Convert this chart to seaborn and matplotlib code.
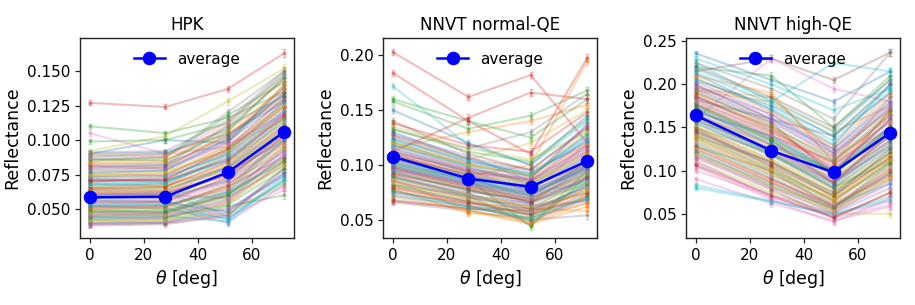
import matplotlib
matplotlib.use("Agg")
import matplotlib.pyplot as plt
import seaborn as sns

# ─── Data ─────────────────────────────────────────────────────────────────────
ANGLES = [0, 28, 51, 72]

# one row per PMT: reflectance at 0, 28, 51, 72 deg
HPK_CURVES = [
    [0.072, 0.070, 0.085, 0.118], [0.065, 0.066, 0.090, 0.125], [0.110, 0.105, 0.116, 0.135],
    [0.127, 0.124, 0.137, 0.163], [0.055, 0.056, 0.070, 0.100], [0.048, 0.047, 0.060, 0.095],
    [0.105, 0.090, 0.095, 0.120], [0.085, 0.088, 0.120, 0.150], [0.092, 0.103, 0.128, 0.152],
    [0.060, 0.062, 0.045, 0.070], [0.090, 0.100, 0.098, 0.140], [0.078, 0.080, 0.105, 0.130],
    [0.099, 0.100, 0.112, 0.148], [0.042, 0.043, 0.055, 0.085], [0.050, 0.051, 0.040, 0.068],
    [0.068, 0.067, 0.080, 0.110], [0.045, 0.046, 0.050, 0.066], [0.058, 0.059, 0.075, 0.105],
    [0.075, 0.076, 0.095, 0.115], [0.053, 0.054, 0.042, 0.074], [0.088, 0.090, 0.108, 0.145],
    [0.062, 0.063, 0.082, 0.112], [0.040, 0.041, 0.052, 0.060], [0.070, 0.072, 0.092, 0.128],
    [0.047, 0.048, 0.063, 0.092], [0.082, 0.083, 0.100, 0.138], [0.039, 0.040, 0.048, 0.078],
    [0.066, 0.068, 0.088, 0.120], [0.056, 0.057, 0.072, 0.098], [0.044, 0.045, 0.041, 0.072],
    [0.080, 0.082, 0.110, 0.132], [0.073, 0.074, 0.096, 0.126], [0.086, 0.087, 0.118, 0.142],
    [0.051, 0.052, 0.066, 0.088], [0.061, 0.060, 0.058, 0.082], [0.038, 0.039, 0.045, 0.080],
    [0.057, 0.056, 0.044, 0.064], [0.076, 0.078, 0.098, 0.135], [0.049, 0.050, 0.068, 0.094],
    [0.067, 0.069, 0.087, 0.116], [0.043, 0.044, 0.057, 0.090], [0.084, 0.086, 0.102, 0.140],
    [0.064, 0.065, 0.079, 0.108], [0.054, 0.055, 0.073, 0.102], [0.071, 0.073, 0.090, 0.122],
    [0.046, 0.047, 0.061, 0.087], [0.059, 0.058, 0.070, 0.097], [0.052, 0.053, 0.064, 0.104],
    [0.041, 0.042, 0.054, 0.083], [0.069, 0.070, 0.085, 0.113], [0.090, 0.091, 0.104, 0.128],
    [0.063, 0.064, 0.078, 0.109], [0.048, 0.049, 0.062, 0.084], [0.074, 0.075, 0.093, 0.124],
    [0.039, 0.040, 0.050, 0.074], [0.060, 0.061, 0.076, 0.100], [0.081, 0.079, 0.097, 0.118],
    [0.045, 0.046, 0.059, 0.093], [0.066, 0.067, 0.083, 0.114], [0.052, 0.050, 0.043, 0.071],
    [0.077, 0.078, 0.101, 0.133], [0.050, 0.051, 0.065, 0.096], [0.086, 0.085, 0.106, 0.146],
    [0.062, 0.062, 0.074, 0.103], [0.040, 0.040, 0.046, 0.076], [0.071, 0.071, 0.094, 0.131],
    [0.055, 0.054, 0.069, 0.091], [0.091, 0.092, 0.114, 0.150], [0.047, 0.046, 0.058, 0.081],
    [0.068, 0.069, 0.091, 0.127], [0.058, 0.058, 0.071, 0.106], [0.083, 0.084, 0.111, 0.143],
    [0.044, 0.044, 0.053, 0.079], [0.065, 0.066, 0.084, 0.117], [0.079, 0.080, 0.099, 0.129],
    [0.052, 0.052, 0.067, 0.099], [0.087, 0.088, 0.113, 0.147], [0.061, 0.061, 0.080, 0.111],
    [0.042, 0.042, 0.047, 0.069], [0.073, 0.074, 0.089, 0.121], [0.056, 0.055, 0.048, 0.076],
    [0.089, 0.089, 0.107, 0.137], [0.049, 0.048, 0.060, 0.086], [0.070, 0.071, 0.086, 0.119],
    [0.059, 0.060, 0.077, 0.107], [0.081, 0.081, 0.103, 0.134], [0.046, 0.045, 0.056, 0.089],
    [0.064, 0.063, 0.081, 0.115], [0.075, 0.077, 0.092, 0.125], [0.053, 0.053, 0.062, 0.101],
]
NORMAL_CURVES = [
    [0.100, 0.085, 0.075, 0.095], [0.115, 0.130, 0.140, 0.155], [0.158, 0.133, 0.145, 0.168],
    [0.203, 0.162, 0.182, 0.120], [0.095, 0.080, 0.070, 0.090], [0.140, 0.110, 0.095, 0.135],
    [0.120, 0.100, 0.090, 0.125], [0.132, 0.115, 0.130, 0.165], [0.125, 0.105, 0.120, 0.150],
    [0.172, 0.118, 0.100, 0.140], [0.150, 0.120, 0.100, 0.145], [0.110, 0.090, 0.100, 0.195],
    [0.160, 0.140, 0.125, 0.160], [0.184, 0.140, 0.110, 0.198], [0.090, 0.072, 0.065, 0.100],
    [0.068, 0.060, 0.055, 0.070], [0.105, 0.085, 0.065, 0.105], [0.066, 0.058, 0.050, 0.054],
    [0.135, 0.115, 0.105, 0.130], [0.082, 0.066, 0.050, 0.085], [0.072, 0.062, 0.058, 0.080],
    [0.098, 0.078, 0.060, 0.058], [0.082, 0.072, 0.045, 0.095], [0.112, 0.143, 0.166, 0.160],
    [0.128, 0.108, 0.085, 0.115], [0.085, 0.070, 0.062, 0.075], [0.118, 0.095, 0.075, 0.120],
    [0.108, 0.090, 0.080, 0.100], [0.093, 0.076, 0.068, 0.092], [0.122, 0.098, 0.082, 0.112],
    [0.088, 0.074, 0.056, 0.082], [0.078, 0.056, 0.052, 0.065], [0.102, 0.083, 0.072, 0.098],
    [0.067, 0.060, 0.058, 0.068], [0.113, 0.093, 0.087, 0.138], [0.096, 0.082, 0.072, 0.102],
    [0.126, 0.103, 0.095, 0.118], [0.090, 0.073, 0.060, 0.088], [0.117, 0.100, 0.083, 0.108],
    [0.104, 0.088, 0.070, 0.093], [0.130, 0.105, 0.090, 0.128], [0.080, 0.064, 0.048, 0.072],
    [0.092, 0.077, 0.067, 0.086], [0.075, 0.065, 0.060, 0.074], [0.110, 0.090, 0.078, 0.110],
    [0.099, 0.081, 0.068, 0.096], [0.086, 0.072, 0.063, 0.067], [0.119, 0.097, 0.085, 0.124],
    [0.094, 0.079, 0.070, 0.091], [0.101, 0.087, 0.074, 0.084], [0.124, 0.102, 0.092, 0.121],
    [0.087, 0.058, 0.046, 0.062], [0.106, 0.087, 0.044, 0.090], [0.079, 0.066, 0.055, 0.078],
    [0.114, 0.096, 0.088, 0.136], [0.097, 0.080, 0.066, 0.083], [0.091, 0.075, 0.069, 0.087],
    [0.107, 0.092, 0.079, 0.104], [0.083, 0.068, 0.057, 0.076], [0.116, 0.093, 0.081, 0.106],
    [0.103, 0.086, 0.077, 0.097], [0.121, 0.101, 0.089, 0.119], [0.089, 0.071, 0.059, 0.081],
    [0.111, 0.094, 0.084, 0.113], [0.076, 0.063, 0.049, 0.069], [0.127, 0.106, 0.096, 0.133],
    [0.095, 0.081, 0.071, 0.094], [0.109, 0.091, 0.076, 0.101], [0.084, 0.069, 0.053, 0.079],
    [0.118, 0.099, 0.090, 0.127], [0.098, 0.084, 0.073, 0.099], [0.071, 0.059, 0.047, 0.066],
    [0.133, 0.112, 0.103, 0.142], [0.092, 0.078, 0.066, 0.089], [0.105, 0.089, 0.078, 0.107],
    [0.081, 0.067, 0.054, 0.073], [0.115, 0.097, 0.087, 0.116], [0.100, 0.082, 0.069, 0.093],
    [0.087, 0.073, 0.062, 0.084], [0.123, 0.104, 0.093, 0.122], [0.094, 0.077, 0.064, 0.088],
    [0.108, 0.092, 0.082, 0.111], [0.077, 0.062, 0.051, 0.071], [0.138, 0.118, 0.112, 0.148],
    [0.097, 0.083, 0.075, 0.100], [0.112, 0.095, 0.086, 0.117], [0.085, 0.070, 0.058, 0.080],
    [0.102, 0.086, 0.073, 0.097], [0.120, 0.100, 0.091, 0.130], [0.074, 0.061, 0.052, 0.069],
]
HIGH_CURVES = [
    [0.236, 0.205, 0.180, 0.215], [0.195, 0.185, 0.120, 0.170], [0.220, 0.210, 0.150, 0.210],
    [0.185, 0.150, 0.100, 0.160], [0.170, 0.130, 0.090, 0.140], [0.215, 0.230, 0.205, 0.237],
    [0.160, 0.230, 0.195, 0.180], [0.150, 0.120, 0.085, 0.130], [0.130, 0.090, 0.060, 0.100],
    [0.225, 0.180, 0.225, 0.215], [0.205, 0.175, 0.140, 0.190], [0.193, 0.180, 0.145, 0.175],
    [0.140, 0.110, 0.075, 0.120], [0.178, 0.140, 0.110, 0.165], [0.120, 0.085, 0.055, 0.090],
    [0.165, 0.130, 0.095, 0.150], [0.100, 0.070, 0.045, 0.060], [0.145, 0.110, 0.070, 0.115],
    [0.110, 0.075, 0.050, 0.050], [0.083, 0.065, 0.048, 0.070], [0.212, 0.170, 0.130, 0.200],
    [0.188, 0.150, 0.115, 0.155], [0.128, 0.100, 0.065, 0.110], [0.175, 0.135, 0.085, 0.145],
    [0.118, 0.080, 0.052, 0.085], [0.200, 0.160, 0.140, 0.200], [0.090, 0.062, 0.042, 0.058],
    [0.158, 0.125, 0.090, 0.135], [0.135, 0.095, 0.068, 0.105], [0.230, 0.200, 0.170, 0.195],
    [0.168, 0.140, 0.100, 0.150], [0.180, 0.145, 0.105, 0.165], [0.148, 0.105, 0.070, 0.125],
    [0.190, 0.155, 0.095, 0.170], [0.108, 0.072, 0.050, 0.080], [0.220, 0.185, 0.150, 0.205],
    [0.125, 0.088, 0.060, 0.095], [0.172, 0.130, 0.100, 0.140], [0.155, 0.118, 0.080, 0.130],
    [0.142, 0.100, 0.060, 0.085], [0.182, 0.160, 0.125, 0.180], [0.210, 0.190, 0.110, 0.185],
    [0.162, 0.120, 0.080, 0.112], [0.138, 0.098, 0.058, 0.102], [0.198, 0.165, 0.120, 0.175],
    [0.115, 0.078, 0.045, 0.075], [0.105, 0.066, 0.040, 0.068], [0.225, 0.195, 0.160, 0.237],
    [0.152, 0.112, 0.072, 0.118], [0.132, 0.092, 0.055, 0.098], [0.176, 0.138, 0.098, 0.160],
    [0.208, 0.168, 0.128, 0.190], [0.122, 0.082, 0.056, 0.108], [0.186, 0.146, 0.108, 0.150],
    [0.166, 0.126, 0.088, 0.128], [0.144, 0.104, 0.064, 0.110], [0.112, 0.068, 0.048, 0.064],
    [0.196, 0.158, 0.118, 0.172], [0.136, 0.096, 0.062, 0.092], [0.080, 0.064, 0.050, 0.066],
    [0.171, 0.133, 0.096, 0.148], [0.150, 0.113, 0.078, 0.122], [0.192, 0.152, 0.112, 0.168],
    [0.128, 0.090, 0.058, 0.098], [0.203, 0.165, 0.125, 0.185], [0.160, 0.122, 0.086, 0.136],
    [0.117, 0.081, 0.051, 0.088], [0.183, 0.143, 0.104, 0.158], [0.139, 0.101, 0.066, 0.112],
    [0.214, 0.178, 0.140, 0.198], [0.155, 0.117, 0.080, 0.126], [0.126, 0.087, 0.054, 0.094],
    [0.177, 0.137, 0.099, 0.152], [0.146, 0.107, 0.071, 0.116], [0.199, 0.160, 0.121, 0.178],
    [0.164, 0.124, 0.087, 0.141], [0.133, 0.094, 0.061, 0.104], [0.187, 0.148, 0.110, 0.163],
    [0.119, 0.083, 0.053, 0.091], [0.218, 0.182, 0.146, 0.206], [0.158, 0.119, 0.083, 0.133],
    [0.141, 0.102, 0.067, 0.114], [0.173, 0.135, 0.097, 0.146], [0.106, 0.071, 0.046, 0.074],
    [0.194, 0.156, 0.116, 0.173], [0.149, 0.109, 0.074, 0.121], [0.181, 0.141, 0.102, 0.157],
    [0.124, 0.086, 0.057, 0.096], [0.167, 0.128, 0.092, 0.143], [0.206, 0.172, 0.134, 0.193],
]

# measurement uncertainty per angle
HPK_ERR = [0.0018, 0.0018, 0.0025, 0.0030]
NORMAL_ERR = [0.0030, 0.0030, 0.0030, 0.0035]
HIGH_ERR = [0.0030, 0.0040, 0.0035, 0.0040]

HPK_AVG = [0.0585, 0.0590, 0.0765, 0.1060]
NORMAL_AVG = [0.1075, 0.0875, 0.0800, 0.1035]
HIGH_AVG = [0.1640, 0.1230, 0.0980, 0.1440]

TITLES = ["HPK", "NNVT normal-QE", "NNVT high-QE"]
YLIMS = [(0.0290, 0.1740), (0.0333, 0.2158), (0.0218, 0.2538)]
YTICKS = [
    [0.050, 0.075, 0.100, 0.125, 0.150],
    [0.05, 0.10, 0.15, 0.20],
    [0.05, 0.10, 0.15, 0.20, 0.25],
]
YFMT = ["{:.3f}", "{:.2f}", "{:.2f}"]

# ─── Plot ─────────────────────────────────────────────────────────────────────
fig = plt.figure(figsize=(9.15, 3.05), dpi=100)
lefts = [0.0874, 0.4186, 0.7497]
palette = sns.color_palette("tab10")

panels = [
    (HPK_CURVES, HPK_ERR, HPK_AVG),
    (NORMAL_CURVES, NORMAL_ERR, NORMAL_AVG),
    (HIGH_CURVES, HIGH_ERR, HIGH_AVG),
]

for i, (curves, err, avg) in enumerate(panels):
    ax = fig.add_axes([lefts[i], 0.2197, 0.234, 0.6557])
    for j, vals in enumerate(curves):
        ax.errorbar(ANGLES, vals, yerr=err, fmt=".-", color=palette[j % 10],
                    alpha=0.3, markersize=4, capsize=1.5, linewidth=1.5,
                    elinewidth=1)
    sns.lineplot(x=ANGLES, y=avg, ax=ax, color="blue", marker="o",
                 markersize=9, markeredgecolor="blue", linewidth=1.8,
                 label="average", zorder=10)
    ax.legend(loc="upper center", frameon=False, fontsize=11)
    ax.set_xlim(-3.6, 75.6)
    ax.set_ylim(*YLIMS[i])
    ax.set_xticks([0, 20, 40, 60])
    ax.set_yticks(YTICKS[i])
    ax.set_yticklabels([YFMT[i].format(t) for t in YTICKS[i]])
    ax.tick_params(labelsize=11, direction="out", length=3.5, width=0.9,
                   color="#222222")
    for side in ["left", "right", "top", "bottom"]:
        ax.spines[side].set_visible(True)
        ax.spines[side].set_color("#222222")
        ax.spines[side].set_linewidth(1.0)
    ax.set_title(TITLES[i], fontsize=12)
    ax.set_xlabel(r"$\theta$ [deg]", fontsize=12.5)
    ax.set_ylabel("Reflectance", fontsize=12.5)

fig.savefig("out.png", dpi=100)
plt.close(fig)
